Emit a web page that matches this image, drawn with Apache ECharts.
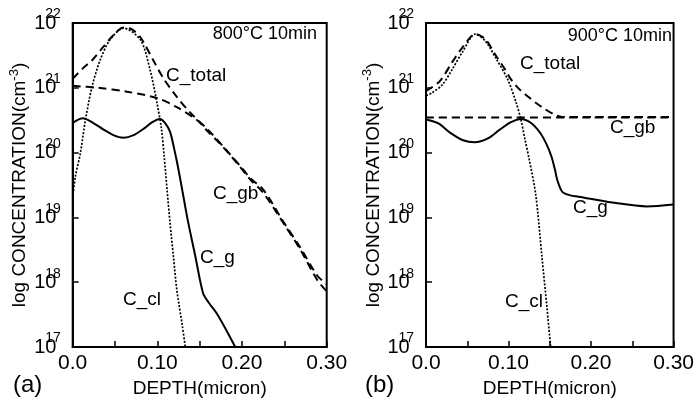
<!DOCTYPE html>
<html><head><meta charset="utf-8">
<script src="https://cdn.jsdelivr.net/npm/echarts@6/dist/echarts.min.js"></script>
<style>html,body{margin:0;padding:0;background:#fff}#c{width:697px;height:405px}</style>
</head><body><div id="c"></div>
<script>
// ---- tick labels ----
const xTickLabels = ['0.0', '0.10', '0.20', '0.30'];
const yExponents = [17, 18, 19, 20, 21, 22];

// ---- panel (a) 800°C 10min : [depth(micron), log10 concentration] ----
const aTotal = [[0,21.14],[0.012,21.3],[0.024,21.44],[0.036,21.63],[0.048,21.81],[0.06,21.93],[0.07,21.9],
  [0.08,21.78],[0.095,21.43],[0.107,21.15],[0.123,20.86],[0.14,20.6],[0.16,20.35],[0.18,20.06],[0.2,19.76],
  [0.21,19.6],[0.225,19.43],[0.249,18.93],[0.269,18.53],[0.289,18.1],[0.3,17.97]];
const aGb = [[0,21.03],[0.03,21.0],[0.064,20.94],[0.1,20.84],[0.123,20.7],[0.147,20.5],[0.16,20.32],[0.17,20.19],
  [0.18,20.05],[0.19,19.9],[0.2,19.74],[0.21,19.58],[0.225,19.38],[0.249,18.91],[0.269,18.5],[0.289,18.03],[0.3,17.86]];
const aCl = [[0,19.3],[0.003,19.62],[0.009,19.99],[0.015,20.5],[0.0227,21.01],[0.0325,21.43],[0.044,21.74],
  [0.06,21.92],[0.08,21.74],[0.0915,21.27],[0.0995,20.77],[0.105,20.35],[0.108,19.95],[0.1115,19.42],[0.115,18.91],
  [0.119,18.39],[0.123,17.88],[0.129,17.37],[0.133,17.0],[0.136,16.7]];
const aG = [[0,20.46],[0.012,20.53],[0.024,20.46],[0.036,20.36],[0.048,20.27],[0.06,20.23],[0.072,20.27],[0.083,20.36],
  [0.094,20.47],[0.103,20.52],[0.109,20.46],[0.115,20.32],[0.12,20.05],[0.124,19.8],[0.129,19.45],[0.136,18.95],
  [0.145,18.39],[0.154,17.83],[0.161,17.68],[0.17,17.52],[0.181,17.27],[0.192,17.0],[0.2,16.8]];

// ---- panel (b) 900°C 10min ----
const bTotal = [[0,20.95],[0.0165,21.1],[0.032,21.4],[0.044,21.62],[0.06,21.83],[0.072,21.75],[0.085,21.49],
  [0.095,21.3],[0.103,21.13],[0.113,20.98],[0.123,20.87],[0.133,20.77],[0.143,20.68],[0.155,20.59],[0.165,20.55],
  [0.2,20.55],[0.3,20.55]];
const bGb = [[0,20.54],[0.1,20.54],[0.2,20.54],[0.3,20.54]];
const bCl = [[0,20.88],[0.007,20.92],[0.02,21.05],[0.032,21.29],[0.044,21.55],[0.06,21.83],[0.072,21.72],[0.085,21.45],
  [0.099,21.13],[0.109,20.78],[0.115,20.51],[0.12,20.2],[0.125,19.9],[0.133,19.35],[0.1405,18.39],[0.1465,17.62],
  [0.151,17.0],[0.153,16.7]];
const bG = [[0,20.51],[0.015,20.45],[0.03,20.3],[0.045,20.19],[0.059,20.16],[0.075,20.22],[0.09,20.36],[0.103,20.47],
  [0.115,20.52],[0.127,20.46],[0.138,20.31],[0.146,20.13],[0.152,19.94],[0.156,19.75],[0.159,19.58],[0.163,19.44],
  [0.1665,19.38],[0.175,19.34],[0.185,19.32],[0.2255,19.23],[0.268,19.17],[0.3,19.2]];

const FONT = 'Liberation Sans, Arial, Helvetica, sans-serif';
const chart = echarts.init(document.getElementById('c'), null, {renderer: 'canvas'});

function xAxisDef(idx) {
  return {
    gridIndex: idx, type: 'value', min: 0, max: 0.3, interval: 0.05,
    axisLine: {show: true, lineStyle: {color: '#000', width: 2}},
    axisTick: {show: true, inside: true, length: 6, lineStyle: {color: '#000', width: 1.5}},
    splitLine: {show: false},
    axisLabel: {
      color: '#000', fontFamily: FONT, fontSize: 21, margin: 6, showMinLabel: true, showMaxLabel: true,
      formatter: v => { const k = Math.round(v * 100); return k % 10 ? '' : xTickLabels[k / 10]; }
    },
    name: 'DEPTH(micron)', nameLocation: 'middle', nameGap: 32,
    nameTextStyle: {color: '#000', fontFamily: FONT, fontSize: 19}
  };
}
function yAxisDef(idx) {
  return {
    gridIndex: idx, type: 'value', min: yExponents[0], max: yExponents[yExponents.length - 1], interval: 1,
    axisLine: {show: true, lineStyle: {color: '#000', width: 2}},
    axisTick: {show: true, inside: true, length: 6, lineStyle: {color: '#000', width: 1.5}},
    splitLine: {show: false},
    axisLabel: {
      color: '#000', fontFamily: FONT, margin: 12, showMinLabel: true, showMaxLabel: true,
      formatter: v => '{b|10}{s|' + v + '}',
      rich: {
        b: {fontSize: 20, fontFamily: FONT, color: '#000', width: 11, align: 'left', verticalAlign: 'middle', lineHeight: 36},
        s: {fontSize: 14, fontFamily: FONT, color: '#000', padding: [0, 0, 17, 0], verticalAlign: 'middle', lineHeight: 16}
      }
    },
    name: 'log CONCENTRATION(cm{e|-3})', nameLocation: 'middle', nameGap: 40,
    nameTextStyle: {color: '#000', fontFamily: FONT, fontSize: 19,
      rich: {e: {fontSize: 13, fontFamily: FONT, color: '#000', padding: [0, 0, 12, 0]}}}
  };
}

function line(data, xi, kind) {
  const st = {color: '#000', width: 2};
  if (kind === 'dash') st.type = [8, 5];
  if (kind === 'dot') { st.type = [2, 1.6]; st.width = 1.7; }
  return {type: 'line', xAxisIndex: xi, yAxisIndex: xi, data: data, symbol: 'none', smooth: 0.3,
    lineStyle: st, clip: true, silent: true, z: 3};
}

function txt(text, left, cy, size, align) {
  return {type: 'text', left: align === 'right' ? null : left, right: align === 'right' ? left : null,
    top: cy - size * 0.6, z: 10,
    style: {text: text, font: size + 'px ' + FONT, fill: '#000'}};
}

chart.setOption({
  animation: false,
  backgroundColor: '#fff',
  grid: [
    {left: 72.7, top: 23, width: 254, height: 324, show: true, borderColor: '#000', borderWidth: 2, backgroundColor: 'transparent'},
    {left: 426, top: 23, width: 254, height: 324, show: true, borderColor: '#000', borderWidth: 2, backgroundColor: 'transparent'}
  ],
  xAxis: [xAxisDef(0), xAxisDef(1)],
  yAxis: [yAxisDef(0), yAxisDef(1)],
  series: [
    line(aGb, 0, 'dash'), line(aTotal, 0, 'dash'), line(aCl, 0, 'dot'), line(aG, 0, 'solid'),
    line(bGb, 1, 'dash'), line(bTotal, 1, 'dash'), line(bCl, 1, 'dot'), line(bG, 1, 'solid')
  ],
  graphic: [
    txt('800°C 10min', 380, 36, 18, 'right'),
    txt('C_total', 166, 78, 19),
    txt('C_gb', 213, 196, 19),
    txt('C_g', 200, 260, 19),
    txt('C_cl', 123, 302, 19),
    txt('(a)', 13, 388, 24),
    txt('900°C 10min', 25, 38, 18, 'right'),
    txt('C_total', 520, 66, 19),
    txt('C_gb', 610, 130, 19),
    txt('C_g', 573, 210, 19),
    txt('C_cl', 505, 304, 19),
    txt('(b)', 365, 388, 24)
  ]
});
</script>
</body></html>
